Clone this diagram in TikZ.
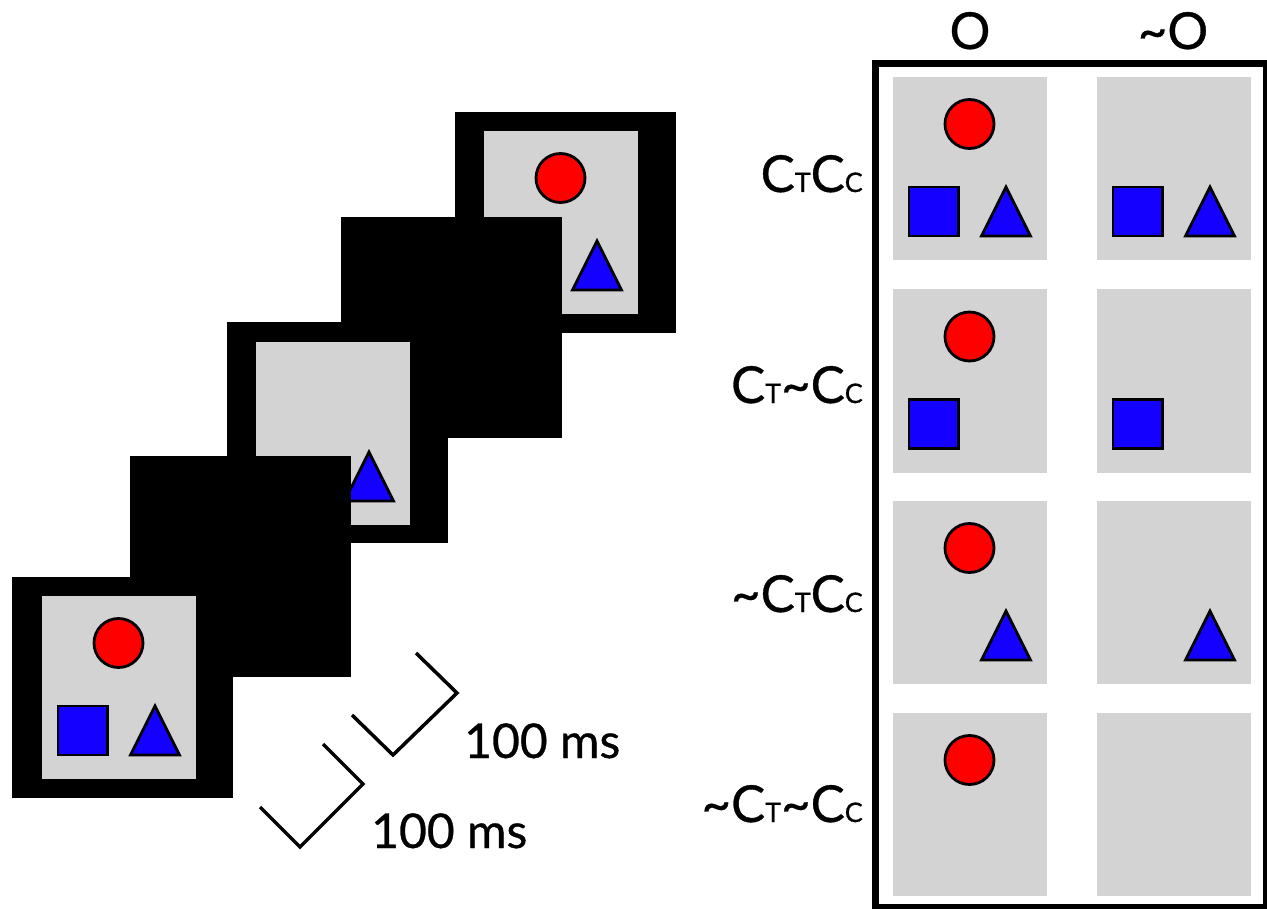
\documentclass[tikz,border=0pt]{standalone}
\usepackage{fontspec}
\setmainfont{Lato}[FakeBold=0.6]
\definecolor{panelgray}{HTML}{D3D3D3}
\definecolor{stimred}{HTML}{FF0000}
\definecolor{stimblue}{HTML}{1400FF}
\newcommand\smc[1]{{\fontsize{27}{27}\selectfont #1}}
\tikzset{
  shp/.style={line width=2.8pt, draw=black},
  lbl/.style={font=\fontsize{51}{51}\selectfont, inner sep=0pt},
  mslbl/.style={font=\fontsize{48}{48}\selectfont, inner sep=0pt},
  tick/.style={line width=3.5pt, draw=black, line cap=butt, line join=miter},
  pics/gpanel/.style={code={\fill[panelgray] (0,0) rectangle (154,183);}},
  pics/rc/.style={code={\draw[shp,fill=stimred] (76.5,47) circle[radius=24.5pt];}},
  pics/bs/.style={code={\draw[shp,fill=stimblue] (16,110) rectangle (65.5,159);}},
  pics/bt/.style={code={\draw[shp,fill=stimblue] (88.5,159) -- (113,110) -- (137.5,159) -- cycle;}},
  pics/mask/.style={code={\fill[black] (0,0) rectangle (221,221);}},
}
\begin{document}
\begin{tikzpicture}[x=1pt,y=-1pt]
\useasboundingbox (0,0) rectangle (1267,909);
% ---- left sequence of frames ----
\pic at (455,112) {mask};
\pic at (484,131) {gpanel};
\pic at (484,131) {rc};
\pic at (484,131) {bt};
\pic at (341,217) {mask};
\pic at (227,322) {mask};
\pic at (256,342) {gpanel};
\pic at (256,342) {bt};
\pic at (130,456) {mask};
\pic at (12,577) {mask};
\pic at (42,596) {gpanel};
\pic at (42,596) {rc};
\pic at (42,596) {bs};
\pic at (42,596) {bt};
% ---- timing marks ----
\draw[tick] (352,715) -- (393,755) -- (457,693) -- (416,653);
\draw[tick] (260,807) -- (300,847) -- (363,784) -- (323,744);
\node[mslbl, anchor=base west] (t1) at (464,758) {100 ms};
\node[mslbl, anchor=base west] (t2) at (371,848) {100 ms};
% ---- right table ----
\draw[line width=6.5pt] (875.5,63.5) rectangle (1266,907);
\node[lbl, anchor=base] (hO) at (970,49) {O};
\node[lbl, anchor=base] (hnO) at (1173,49) {\textasciitilde O};
% row 1
\pic at (893,77) {gpanel}; \pic at (893,77) {rc}; \pic at (893,77) {bs}; \pic at (893,77) {bt};
\pic at (1097,77) {gpanel}; \pic at (1097,77) {bs}; \pic at (1097,77) {bt};
% row 2
\pic at (893,289.5) {gpanel}; \pic at (893,289.5) {rc}; \pic at (893,289.5) {bs};
\pic at (1097,289.5) {gpanel}; \pic at (1097,289.5) {bs};
% row 3
\pic at (893,501) {gpanel}; \pic at (893,501) {rc}; \pic at (893,501) {bt};
\pic at (1097,501) {gpanel}; \pic at (1097,501) {bt};
% row 4
\pic at (893,713) {gpanel}; \pic at (893,713) {rc};
\pic at (1097,713) {gpanel};
% row labels
\node[lbl, anchor=base east] (r1) at (863,192) {C\smc{T}C\smc{C}};
\node[lbl, anchor=base east] (r2) at (863,403) {C\smc{T}\textasciitilde C\smc{C}};
\node[lbl, anchor=base east] (r3) at (863,612) {\textasciitilde C\smc{T}C\smc{C}};
\node[lbl, anchor=base east] (r4) at (863,822) {\textasciitilde C\smc{T}\textasciitilde C\smc{C}};
\end{tikzpicture}
\end{document}
